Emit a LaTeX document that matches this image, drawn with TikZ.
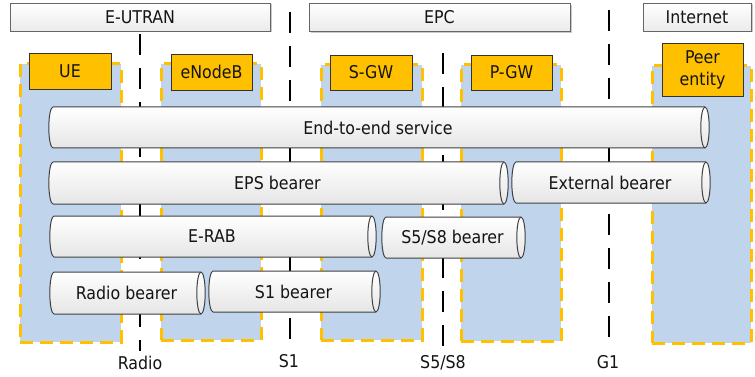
\documentclass[tikz,border=0pt]{standalone}
\usepackage{fontspec}
\setmainfont{DejaVu Sans Condensed}
\usetikzlibrary{shadows}

\definecolor{zoneblue}{RGB}{192,212,236}
\definecolor{amber}{RGB}{255,192,0}
\definecolor{tubeedge}{RGB}{64,64,64}
\definecolor{inkdark}{RGB}{20,20,20}

\tikzset{
  every node/.style={font=\fontsize{17.6}{22}\selectfont, text=inkdark},
  domainbox/.style={draw=black!60, line width=0.8pt, inner sep=0pt,
    top color=white, bottom color=black!8,
    drop shadow={shadow xshift=1.5pt, shadow yshift=-1.5pt, fill=black!35, opacity=0.6}},
  zone/.style={fill=zoneblue, draw=amber, line width=3pt,
    dash pattern=on 13pt off 7pt, inner sep=0pt},
  entity/.style={fill=amber, draw=black!80, line width=0.9pt, inner sep=0pt,
    align=center},
  refline/.style={draw=black, line width=2pt, dash pattern=on 21pt off 13pt},
  tubebody/.style={draw=tubeedge, line width=1pt, top color=white, bottom color=black!10},
  tubeline/.style={draw=tubeedge, line width=1pt},
  tubetext/.style={inner sep=0pt},
  reflabel/.style={inner sep=0pt}
}

% horizontal tube: name, left cap x, right end x, top y, bottom y, text
\newcommand\tube[6]{%
  \pgfmathsetmacro\tuberad{(#5-#4)/2}
  \path[tubebody] (#2,#4) -- (#3,#4)
    arc[start angle=-90, end angle=90, x radius=4.2, y radius=\tuberad]
    -- (#2,#5)
    arc[start angle=90, end angle=270, x radius=4.2, y radius=\tuberad] -- cycle;
  \draw[tubeline] (#3,#5)
    arc[start angle=90, end angle=270, x radius=4.2, y radius=\tuberad];
  \node[tubetext] (#1) at ({(#2+#3)/2-1},{(#4+#5)/2}) {#6};
}

\begin{document}
\begin{tikzpicture}[x=1pt, y=-1pt]
  \useasboundingbox[fill=white] (0,0) rectangle (755,377);

  % domain headers
  \node[domainbox, minimum width=260pt, minimum height=28pt] (eutran) at (140,17) {E-UTRAN};
  \node[domainbox, minimum width=261pt, minimum height=28pt] (epc) at (439.5,17.5) {EPC};
  \node[domainbox, minimum width=108pt, minimum height=28pt] (inet) at (697,17) {Internet};

  % network element zones
  \node[zone, minimum width=101pt, minimum height=278pt] (uez)   at (70.5,203) {};
  \node[zone, minimum width=100pt, minimum height=276pt] (enbz)  at (211,202) {};
  \node[zone, minimum width=101pt, minimum height=275pt] (sgwz)  at (371.5,202.5) {};
  \node[zone, minimum width=100pt, minimum height=276pt] (pgwz)  at (511,203) {};
  \node[zone, minimum width=99pt,  minimum height=277pt] (peerz) at (701.5,204.5) {};

  % reference points
  \coordinate (radtop) at (140,34);  \coordinate (radbot) at (140,351);
  \coordinate (s1top)  at (290,12);  \coordinate (s1bot)  at (290,344);
  \coordinate (s5top)  at (443,53);  \coordinate (s5bot)  at (443,348);
  \coordinate (g1top)  at (609,10);  \coordinate (g1bot)  at (609,343);
  \draw[refline] (radtop) -- (radbot);
  \draw[refline] (s1top) -- (s1bot);
  \draw[refline] (s5top) -- (s5bot);
  \draw[refline] (g1top) -- (g1bot);
  \node[reflabel] (radlab) at (140,363) {Radio};
  \node[reflabel] (s1lab)  at (289,361) {S1};
  \node[reflabel] (s5lab)  at (443,363) {S5/S8};
  \node[reflabel] (g1lab)  at (608,362) {G1};

  % network elements
  \node[entity, minimum width=82pt, minimum height=36pt] (ue)   at (70,71) {UE};
  \node[entity, minimum width=81pt, minimum height=36pt] (enb)  at (211.5,72) {eNodeB};
  \node[entity, minimum width=82pt, minimum height=35pt] (sgw)  at (371,72.5) {S-GW};
  \node[entity, minimum width=81pt, minimum height=35pt] (pgw)  at (511.5,72.5) {P-GW};
  \node[entity, minimum width=81pt, minimum height=53pt] (peer) at (702.5,69.5) {Peer\\entity};

  % bearers
  \tube{e2e}{53}{705}{107}{148}{End-to-end service}
  \tube{eps}{53}{504}{162}{204}{EPS bearer}
  \tube{ext}{516}{706}{162}{203}{External bearer}
  \tube{erab}{54}{372}{216}{257}{E-RAB}
  \tube{s5b}{386}{521}{217}{258}{S5/S8 bearer}
  \tube{radb}{54}{201}{272}{314}{Radio bearer}
  \tube{s1b}{213}{376}{271}{312}{S1 bearer}
\end{tikzpicture}
\end{document}
